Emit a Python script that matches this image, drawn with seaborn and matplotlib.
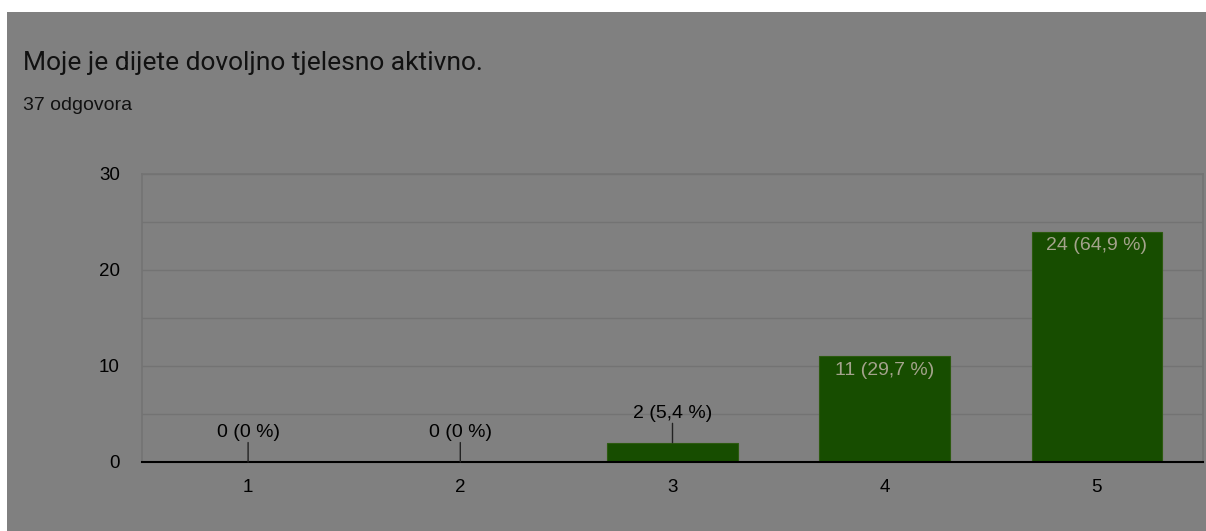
import pandas as pd
import seaborn as sns
import matplotlib.pyplot as plt
from matplotlib.patches import Rectangle

# podaci s grafa
ocjene = ["1", "2", "3", "4", "5"]
broj = [0, 0, 2, 11, 24]
postotak = ["0 %", "0 %", "5,4 %", "29,7 %", "64,9 %"]
ukupno = 37

tablica = pd.DataFrame({"ocjena": ocjene, "broj": broj})

sns.set_style("white")
plt.rcParams["font.family"] = ["Liberation Sans", "DejaVu Sans"]

siva = "#808080"
zelena = "#174d00"

fig = plt.figure(figsize=(12.06, 5.31), dpi=100, facecolor=siva)
# bijeli rub gore i lijevo
fig.patches.append(Rectangle((0, 519 / 531), 1, 12 / 531,
                             transform=fig.transFigure, facecolor="white",
                             edgecolor="none", zorder=-10))
fig.patches.append(Rectangle((0, 0), 7 / 1206, 1,
                             transform=fig.transFigure, facecolor="white",
                             edgecolor="none", zorder=-10))

ax = fig.add_axes([142 / 1206, 69 / 531, 1061 / 1206, 288 / 531])
ax.set_facecolor(siva)

sns.barplot(data=tablica, x="ocjena", y="broj", color=zelena, width=0.615,
            edgecolor="#2c5a10", linewidth=0.8, saturation=1, ax=ax, zorder=3)

ax.set_xlim(-0.5, 4.5)
ax.set_ylim(0, 30)
ax.set_yticks([0, 10, 20, 30])
ax.set_yticks([5, 15, 25], minor=True)
ax.grid(axis="y", which="both", color="#737373", linewidth=1, zorder=0)
ax.set_xlabel("")
ax.set_ylabel("")
ax.tick_params(axis="both", length=0, labelsize=13.5, labelcolor="black")
ax.tick_params(axis="y", pad=16)
ax.tick_params(axis="x", pad=12.5)

for s in ["left", "right", "top"]:
    ax.spines[s].set_color("#737373")
    ax.spines[s].set_linewidth(1.2)
ax.spines["bottom"].set_color("black")
ax.spines["bottom"].set_linewidth(1.5)
ax.spines["bottom"].set_zorder(5)

# oznake vrijednosti
for i, (b, p) in enumerate(zip(broj, postotak)):
    tekst = f"{b} ({p})"
    if b >= 5:
        ax.annotate(tekst, (i, b), xytext=(0, -10), textcoords="offset points",
                    ha="center", va="center", fontsize=14, color="#a4a38c",
                    zorder=6)
    else:
        ax.annotate("", (i, b), xytext=(0, 14), textcoords="offset points",
                    arrowprops=dict(arrowstyle="-", color="#222222", lw=1,
                                    shrinkA=0, shrinkB=0), zorder=6)
        ax.annotate(tekst, (i, b), xytext=(0, 21), textcoords="offset points",
                    ha="center", va="center", fontsize=14, color="black",
                    zorder=6)

fig.text(23 / 1206, 1 - 63 / 531, "Moje je dijete dovoljno tjelesno aktivno.",
         fontsize=19, family=["Roboto", "DejaVu Sans"], color="#111111",
         va="center", ha="left")
fig.text(23 / 1206, 1 - 105 / 531, f"{ukupno} odgovora", fontsize=14,
         color="#111111", va="center", ha="left")

fig.savefig("out.png", dpi=100, facecolor=fig.get_facecolor())
